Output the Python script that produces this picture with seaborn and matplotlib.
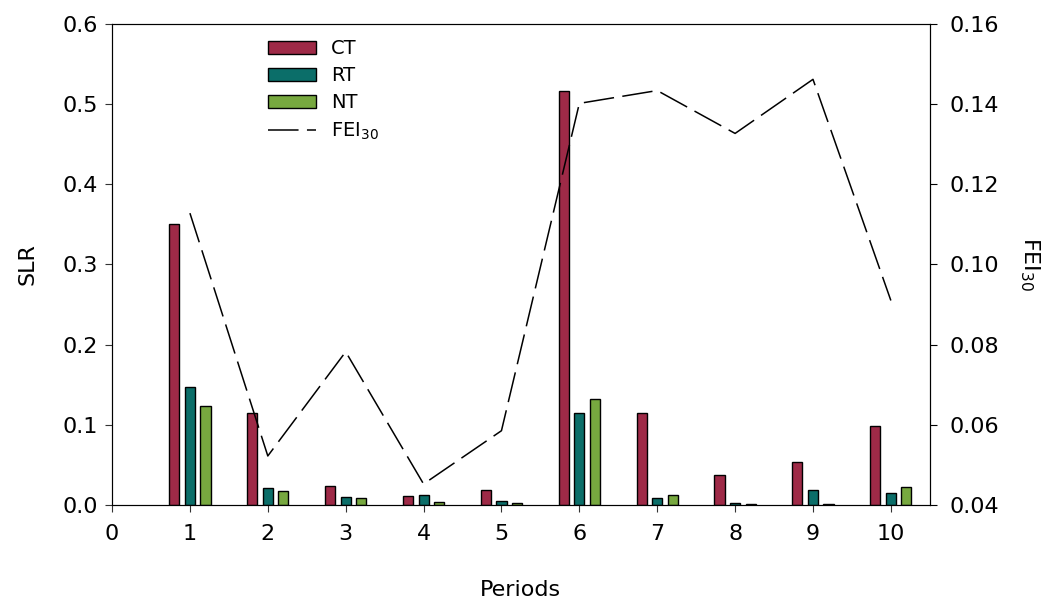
import seaborn as sns
import matplotlib.pyplot as plt
import pandas as pd

periods = [1, 2, 3, 4, 5, 6, 7, 8, 9, 10]
slr_ct = [0.350, 0.115, 0.024, 0.011, 0.018, 0.517, 0.114, 0.037, 0.054, 0.098]
slr_rt = [0.147, 0.021, 0.010, 0.012, 0.005, 0.114, 0.009, 0.002, 0.019, 0.015]
slr_nt = [0.123, 0.017, 0.009, 0.004, 0.002, 0.132, 0.012, 0.0015, 0.0015, 0.022]
fei30 = [0.1128, 0.0522, 0.0782, 0.0452, 0.0585, 0.1402, 0.1434, 0.1327, 0.1462, 0.0910]

tillage = ['CT', 'RT', 'NT']
palette = {'CT': '#9e2a47', 'RT': '#0b6e69', 'NT': '#77a83f'}

df = pd.DataFrame({
    'period': periods * 3,
    'SLR': slr_ct + slr_rt + slr_nt,
    'tillage': ['CT'] * 10 + ['RT'] * 10 + ['NT'] * 10,
})

fig, ax = plt.subplots(figsize=(10.59, 6.01), dpi=100)
fig.subplots_adjust(left=0.1058, right=0.878, top=0.960, bottom=0.160)

sns.barplot(data=df, x='period', y='SLR', hue='tillage', hue_order=tillage,
            palette=palette, native_scale=True, width=0.6, gap=0.35,
            edgecolor='black', linewidth=1, saturation=1, ax=ax, legend=True)

ax2 = ax.twinx()
sns.lineplot(x=periods, y=fei30, ax=ax2, color='black', linewidth=1.1,
             linestyle=(0, (20, 5.5)), label='FEI$_{30}$', legend=False)

ax.set_xlim(0, 10.5)
ax.set_ylim(0, 0.6)
ax2.set_ylim(0.04, 0.16)
ax.set_xticks(range(0, 11))
ax.set_yticks([0, 0.1, 0.2, 0.3, 0.4, 0.5, 0.6])
ax.set_yticklabels([f'{v:.1f}' for v in [0, 0.1, 0.2, 0.3, 0.4, 0.5, 0.6]])
ax2.set_yticks([0.04, 0.06, 0.08, 0.10, 0.12, 0.14, 0.16])
ax2.set_yticklabels([f'{v:.2f}' for v in [0.04, 0.06, 0.08, 0.10, 0.12, 0.14, 0.16]])

ax.tick_params(axis='x', labelsize=16, direction='out', length=5, pad=9)
ax.tick_params(axis='y', labelsize=16, direction='out', length=5, pad=5)
ax2.tick_params(labelsize=16, direction='out', length=5, pad=9)
ax.set_xlabel('Periods', fontsize=16, labelpad=26)
ax.set_ylabel('SLR', fontsize=16, labelpad=18)
ax2.set_ylabel('FEI$_{30}$', fontsize=16, rotation=270, labelpad=31)

for side in ['left', 'bottom', 'top']:
    ax.spines[side].set_color('#333333')
ax.tick_params(colors='#333333', labelcolor='black')

h1, l1 = ax.get_legend_handles_labels()
h2, l2 = ax2.get_legend_handles_labels()
ax.legend(h1 + h2, l1 + l2, loc='upper left', bbox_to_anchor=(0.169, 1.005),
          frameon=False, fontsize=14, handlelength=2.5, labelspacing=0.42,
          handletextpad=0.75)

fig.savefig('out.png', dpi=100)
